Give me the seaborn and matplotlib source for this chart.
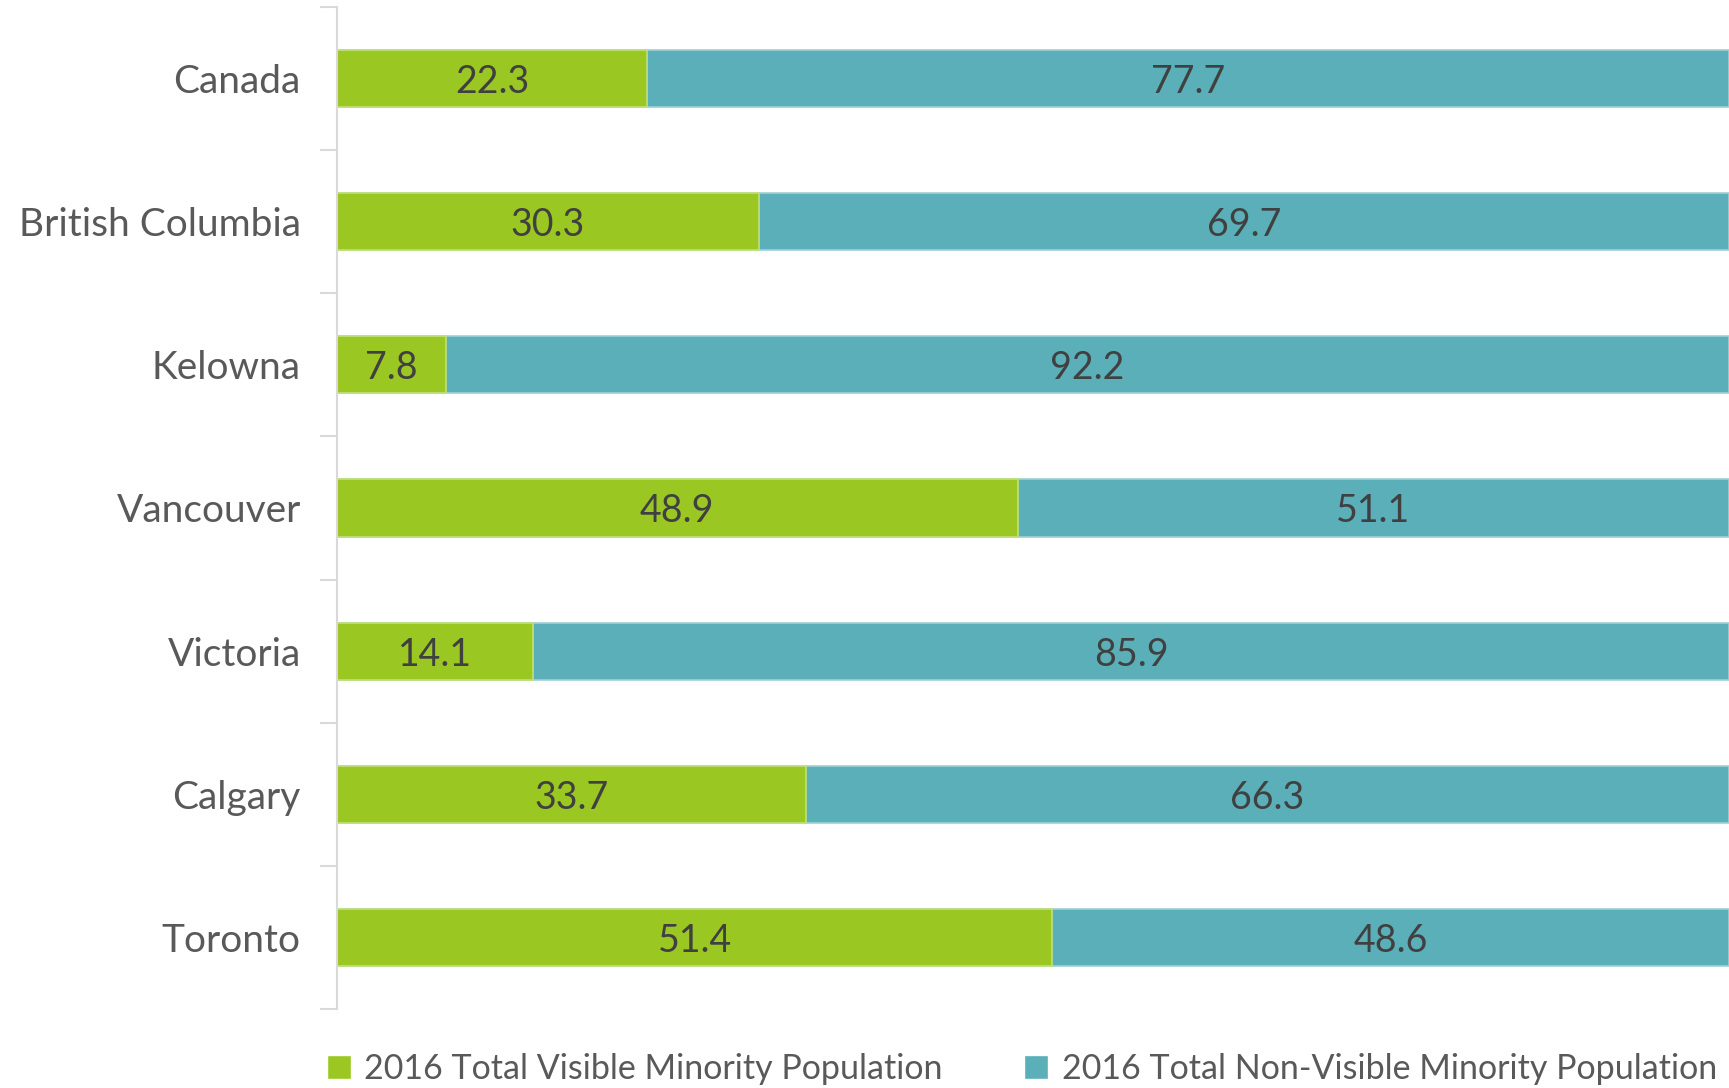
import matplotlib
matplotlib.use("Agg")
import matplotlib.pyplot as plt
import pandas as pd
import seaborn as sns
from matplotlib.patches import Patch

# datos del grafico
ciudades = ["Canada", "British Columbia", "Kelowna", "Vancouver", "Victoria", "Calgary", "Toronto"]
visible = [22.3, 30.3, 7.8, 48.9, 14.1, 33.7, 51.4]
no_visible = [77.7, 69.7, 92.2, 51.1, 85.9, 66.3, 48.6]
series = ["2016 Total Visible Minority Population", "2016 Total Non-Visible Minority Population"]

verde = "#9BC723"
teal = "#5AAFB8"
texto = "#404040"

df = pd.DataFrame({"ciudad": ciudades, "visible": visible, "no_visible": no_visible})
df["total"] = df["visible"] + df["no_visible"]

sns.set_style("white")
plt.rcParams["font.family"] = ["Lato", "DejaVu Sans"]

fig = plt.figure(figsize=(17.29, 10.88), dpi=100)
ax = fig.add_axes([0.1949, 0.0726, 0.8051, 0.921])

# barra total (teal) y encima la parte visible (verde)
sns.barplot(data=df, x="total", y="ciudad", color=teal, width=0.4, ax=ax,
            edgecolor="#9fd0d5", linewidth=1.2, saturation=1)
sns.barplot(data=df, x="visible", y="ciudad", color=verde, width=0.4, ax=ax,
            edgecolor="#c2e07a", linewidth=1.2, saturation=1)

# etiquetas en el centro de cada segmento
for i, (v, nv) in enumerate(zip(visible, no_visible)):
    ax.text(v / 2, i, f"{v}", ha="center", va="center_baseline", fontsize=27, color=texto)
    ax.text(v + nv / 2, i, f"{nv}", ha="center", va="center_baseline", fontsize=27, color=texto)

ax.set_xlim(0, 100)
ax.set_ylim(len(ciudades) - 0.5, -0.5)
ax.set_xlabel("")
ax.set_ylabel("")
ax.set_xticks([])
ax.tick_params(axis="y", which="major", left=False, length=0, pad=26, labelsize=28, labelcolor="#595959")
ax.set_yticks([i - 0.5 for i in range(len(ciudades) + 1)], minor=True)
ax.tick_params(axis="y", which="minor", left=True, length=12, width=1.5, color="#d9d9d9")

for s in ["top", "right", "bottom"]:
    ax.spines[s].set_visible(False)
ax.spines["left"].set_color("#d9d9d9")
ax.spines["left"].set_linewidth(1.5)

handles = [Patch(facecolor=verde), Patch(facecolor=teal)]
fig.legend(handles, series, loc="center", bbox_to_anchor=(0.591, 0.0175), ncol=2,
           frameon=False, fontsize=24.5, labelcolor="#595959", handlelength=0.7,
           handleheight=0.7, handletextpad=0.4, columnspacing=2.4)

fig.savefig("out.png", dpi=100)
